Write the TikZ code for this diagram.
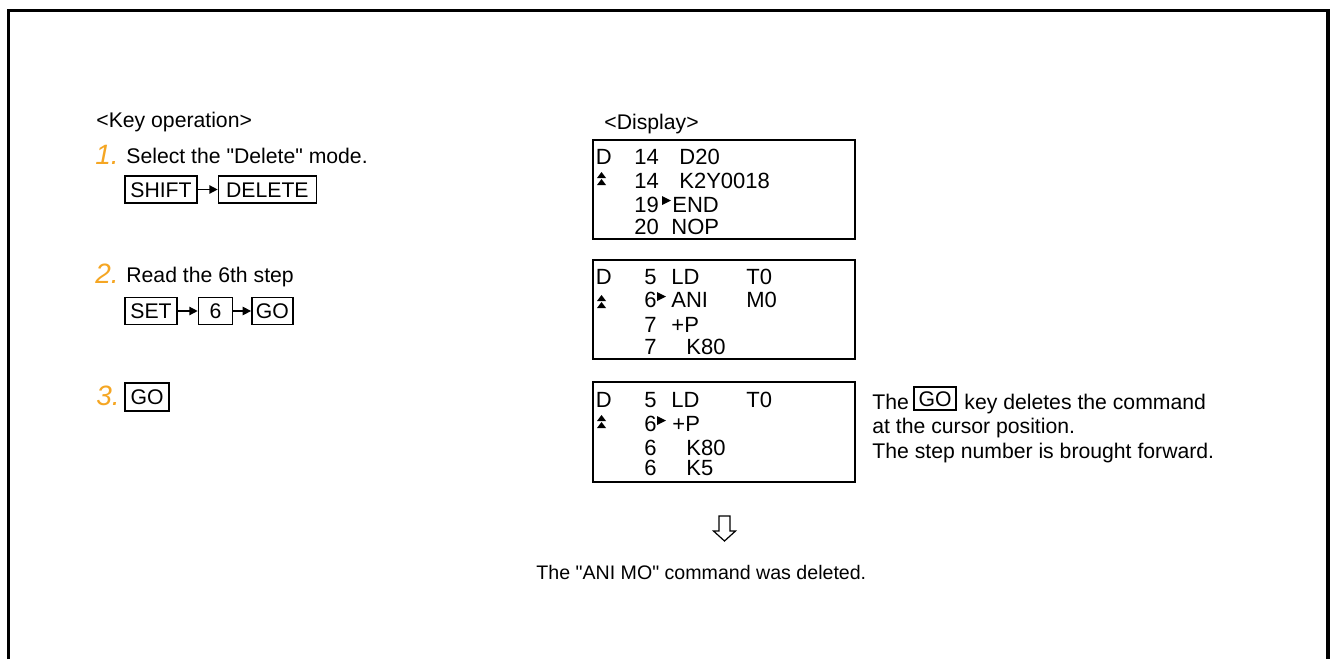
\documentclass[tikz,border=0pt]{standalone}
\usepackage{fontspec}
\setmainfont{Liberation Sans}[Ligatures=TeXOff]
\usetikzlibrary{arrows.meta,positioning}
\definecolor{stepnum}{RGB}{245,166,35}

\tikzset{
  scrollmark/.pic={\fill (0,6) -- (9,6) -- (4.5,0) -- cycle; \fill (0,13) -- (9,13) -- (4.5,7) -- cycle;},
  cursormark/.pic={\fill (0,0) -- (0,9) -- (9,4.5) -- cycle;}
}

\begin{document}
\begin{tikzpicture}[x=0.5pt, y=-0.5pt, >={Triangle[length=4.2pt,width=4.2pt]},
  every node/.style={font=\fontsize{10.6pt}{12pt}\selectfont},
  txt/.style={anchor=base west, inner sep=0pt},
  num/.style={anchor=base west, inner sep=0pt, text=stepnum, font=\fontsize{14pt}{16pt}\selectfont\itshape},
  key/.style={draw, line width=0.7pt, inner sep=0pt, minimum height=13.5pt, text height=7.6pt, text depth=0pt},
  lcd/.style={draw, line width=1pt, minimum width=131pt, minimum height=49.5pt, inner sep=0pt},
  lcdtxt/.style={anchor=base west, inner sep=0pt, font=\fontsize{11pt}{12pt}\selectfont},
  keyarrow/.style={->, line width=0.7pt}]
  \useasboundingbox (0,0) rectangle (1334,659);
  \draw[line width=1.6pt] (8.3,659) -- (8.3,10.5) -- (1328,10.5) -- (1328,659);

  % key operation
  \node[txt] (keyhead) at (96,127) {<Key operation>};
  \node[num] (n1) at (95,164) {1.};
  \node[txt] (s1) at (126,163) {Select the "Delete" mode.};
  \node[key, minimum width=36pt] (shift) at (161,189.5) {SHIFT};
  \node[key, minimum width=49pt, right=10pt of shift] (delete) {DELETE};
  \draw[keyarrow] (shift) -- (delete);

  \node[num] (n2) at (95,283) {2.};
  \node[txt] (s2) at (126,282) {Read the 6th step};
  \node[key, minimum width=26pt] (set) at (151,311) {SET};
  \node[key, minimum width=17pt, right=10pt of set] (six) {6};
  \node[key, minimum width=20.5pt, right=9pt of six] (go) {GO};
  \draw[keyarrow] (set) -- (six);
  \draw[keyarrow] (six) -- (go);

  \node[num] (n3) at (96,405) {3.};
  \node[key, minimum width=22pt, minimum height=14pt] (gothree) at (147,397) {GO};

  % display
  \node[txt] (disphead) at (604,129) {<Display>};

  \node[lcd] (lcd1) at (724,189.5) {};
  \node[lcdtxt] (b1d) at (595.5,164.5) {D};
  \node[lcdtxt] (b1s1) at (634,164.5) {14};
  \node[lcdtxt] (b1c1) at (679,164.5) {D20};
  \pic at (597,172) {scrollmark};
  \node[lcdtxt] (b1s2) at (634,188.5) {14};
  \node[lcdtxt] (b1c2) at (679,188.5) {K2Y0018};
  \node[lcdtxt] (b1s3) at (634,212.5) {19};
  \pic at (662,196) {cursormark};
  \node[lcdtxt] (b1c3) at (672,212.5) {END};
  \node[lcdtxt] (b1s4) at (634,234.5) {20};
  \node[lcdtxt] (b1c4) at (671,234.5) {NOP};

  \node[lcd] (lcd2) at (723.5,309.5) {};
  \node[lcdtxt] (b2d) at (595.5,284.5) {D};
  \node[lcdtxt] (b2s1) at (644,284.5) {5};
  \node[lcdtxt] (b2c1) at (671,284.5) {LD};
  \node[lcdtxt] (b2o1) at (746,284.5) {T0};
  \pic at (597,295) {scrollmark};
  \node[lcdtxt] (b2s2) at (644,307.5) {6};
  \pic at (657,292) {cursormark};
  \node[lcdtxt] (b2c2) at (671,307.5) {ANI};
  \node[lcdtxt] (b2o2) at (746,307.5) {M0};
  \node[lcdtxt] (b2s3) at (644,332) {7};
  \node[lcdtxt] (b2c3) at (671,332) {+P};
  \node[lcdtxt] (b2s4) at (644,354.5) {7};
  \node[lcdtxt] (b2c4) at (686,354.5) {K80};

  \node[lcd, minimum height=50pt] (lcd3) at (723.5,432) {};
  \node[lcdtxt] (b3d) at (595.5,407) {D};
  \node[lcdtxt] (b3s1) at (644,407) {5};
  \node[lcdtxt] (b3c1) at (671,407) {LD};
  \node[lcdtxt] (b3o1) at (746,407) {T0};
  \pic at (597,415) {scrollmark};
  \node[lcdtxt] (b3s2) at (644,431.5) {6};
  \pic at (657,416) {cursormark};
  \node[lcdtxt] (b3c2) at (672,431.5) {+P};
  \node[lcdtxt] (b3s3) at (644,455.5) {6};
  \node[lcdtxt] (b3c3) at (686,455.5) {K80};
  \node[lcdtxt] (b3s4) at (644,475.5) {6};
  \node[lcdtxt] (b3c4) at (686,475.5) {K5};

  % note
  \node[txt] (note1) at (872,409) {The};
  \node[key, minimum width=21pt, minimum height=11.5pt] (gonote) at (935,398.5) {GO};
  \node[txt] (note1b) at (964,409) {key deletes the command};
  \node[txt] (note2) at (872,433) {at the cursor position.};
  \node[txt] (note3) at (872,458) {The step number is brought forward.};

  % result
  \draw[line width=0.6pt] (719,516) -- (730,516) -- (730,531) -- (735.5,531) -- (724.5,541) -- (713.5,531) -- (719,531) -- cycle;
  \node[txt, font=\fontsize{9.8pt}{12pt}\selectfont] (result) at (536,579) {The "ANI MO" command was deleted.};
\end{tikzpicture}
\end{document}
